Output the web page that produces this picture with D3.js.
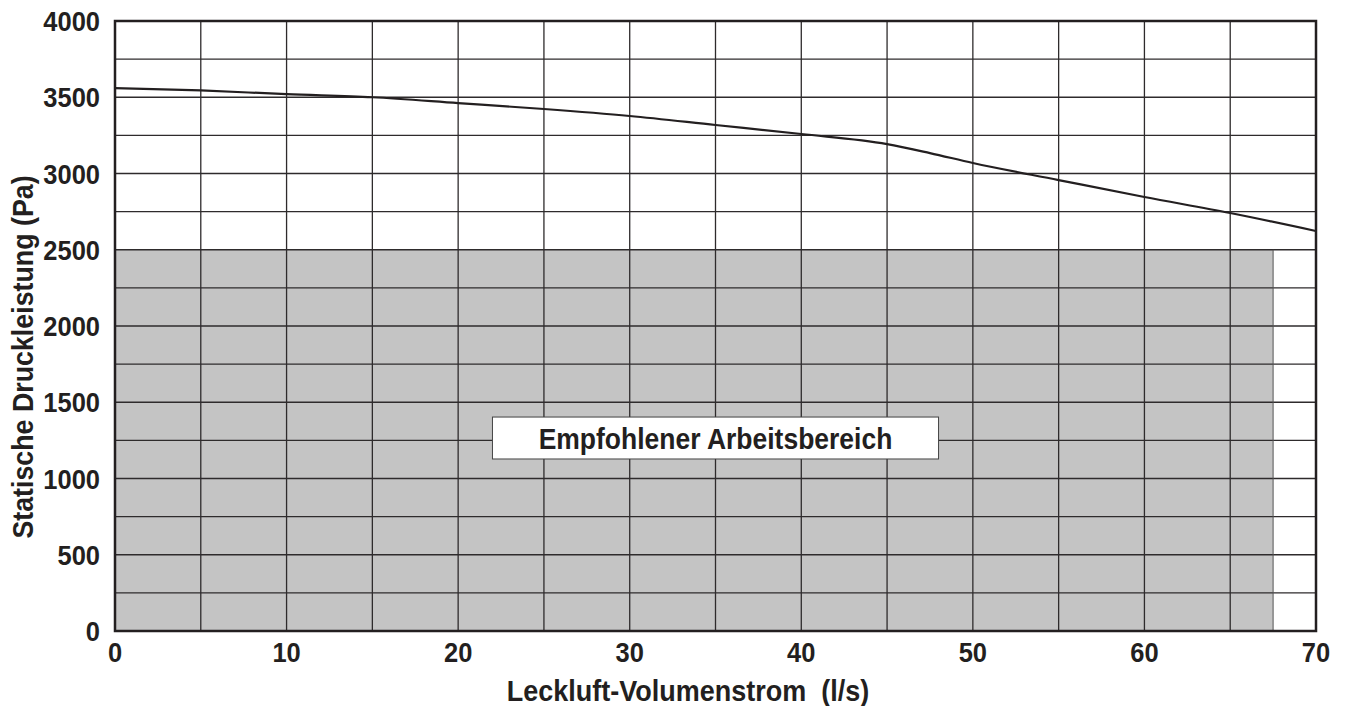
<!DOCTYPE html>
<html>
<head>
<meta charset="utf-8">
<script src="https://cdn.jsdelivr.net/npm/d3@7"></script>
<style>
  body { margin: 0; background: #fff; }
  text { font-family: "Liberation Sans", Arial, sans-serif; font-weight: bold; fill: #231f20; }
</style>
</head>
<body>
<div id="chart"></div>
<script>
// curve: flow (l/s) vs static pressure (Pa)
const flow = [0, 5, 10, 15, 20, 25, 30, 35, 40, 45, 47.5, 50, 55, 60, 65, 70];
const pressure = [3560, 3545, 3520, 3500, 3462, 3423, 3377, 3318, 3259, 3193, 3134, 3069, 2957, 2846, 2741, 2623];

const xTicks = [0, 10, 20, 30, 40, 50, 60, 70];
const yTicks = [0, 500, 1000, 1500, 2000, 2500, 3000, 3500, 4000];
const xGrid = d3.range(0, 71, 5);
const yGrid = d3.range(0, 4001, 250);

// recommended working area
const areaFlow = [0, 67.5];
const areaPressure = [0, 2500];
const areaLabel = "Empfohlener Arbeitsbereich";
const labelBox = { x0: 22, x1: 48, y0: 1128, y1: 1403 };

const width = 1349, height = 706;
const margin = { left: 115, right: 33, top: 21, bottom: 75 };
const stretch = 1.1; // glyphs in the picture are a bit taller than wide

const svg = d3.select('#chart').append('svg')
  .attr('width', width)
  .attr('height', height);

const x = d3.scaleLinear().domain([0, 70]).range([margin.left, width - margin.right]);
const y = d3.scaleLinear().domain([0, 4000]).range([height - margin.bottom, margin.top]);

function label(g, tx, ty, txt, size, anchor, rot) {
  return g.append('text')
    .attr('transform', `translate(${tx},${ty})` + (rot ? ` rotate(${rot})` : '') + ` scale(1,${stretch})`)
    .attr('text-anchor', anchor)
    .style('font-size', size + 'px')
    .style('white-space', 'pre')
    .text(txt);
}

// shaded area
svg.append('rect')
  .attr('x', x(areaFlow[0]))
  .attr('y', y(areaPressure[1]))
  .attr('width', x(areaFlow[1]) - x(areaFlow[0]))
  .attr('height', y(areaPressure[0]) - y(areaPressure[1]))
  .attr('fill', '#c4c4c4');

// grid
svg.append('g').selectAll('line')
  .data(xGrid)
  .enter().append('line')
  .attr('x1', d => x(d)).attr('x2', d => x(d))
  .attr('y1', y(0)).attr('y2', y(4000))
  .attr('stroke', '#2e2b2c')
  .attr('stroke-width', 1.3);

svg.append('g').selectAll('line')
  .data(yGrid)
  .enter().append('line')
  .attr('x1', x(0)).attr('x2', x(70))
  .attr('y1', d => y(d)).attr('y2', d => y(d))
  .attr('stroke', '#2e2b2c')
  .attr('stroke-width', 1.3);

// vertical edge of the shaded area
svg.append('line')
  .attr('x1', x(areaFlow[1])).attr('x2', x(areaFlow[1]))
  .attr('y1', y(0)).attr('y2', y(areaPressure[1]))
  .attr('stroke', '#555')
  .attr('stroke-width', 1);

// label box
svg.append('rect')
  .attr('x', x(labelBox.x0))
  .attr('y', y(labelBox.y1))
  .attr('width', x(labelBox.x1) - x(labelBox.x0))
  .attr('height', y(labelBox.y0) - y(labelBox.y1))
  .attr('fill', '#fff')
  .attr('stroke', '#444')
  .attr('stroke-width', 1);

label(svg, x((labelBox.x0 + labelBox.x1) / 2), y((labelBox.y0 + labelBox.y1) / 2) + 11,
  areaLabel, 26.5, 'middle');

// curve
const line = d3.line()
  .x((d, i) => x(flow[i]))
  .y(d => y(d))
  .curve(d3.curveMonotoneX);

svg.append('path')
  .datum(pressure)
  .attr('d', line)
  .attr('fill', 'none')
  .attr('stroke', '#231f20')
  .attr('stroke-width', 2.2);

// frame
svg.append('rect')
  .attr('x', x(0))
  .attr('y', y(4000))
  .attr('width', x(70) - x(0))
  .attr('height', y(0) - y(4000))
  .attr('fill', 'none')
  .attr('stroke', '#231f20')
  .attr('stroke-width', 2.5);

// tick labels
const yl = svg.append('g');
yTicks.forEach(d => label(yl, 100, y(d) + 10, d, 25.5, 'end'));

const xl = svg.append('g');
xTicks.forEach(d => label(xl, x(d), y(0) + 31, d, 25.5, 'middle'));

// axis titles
label(svg, 688, 701, 'Leckluft-Volumenstrom  (l/s)', 27, 'middle');
label(svg, 33, 357, 'Statische Druckleistung (Pa)', 26.8, 'middle', -90);
</script>
</body>
</html>
